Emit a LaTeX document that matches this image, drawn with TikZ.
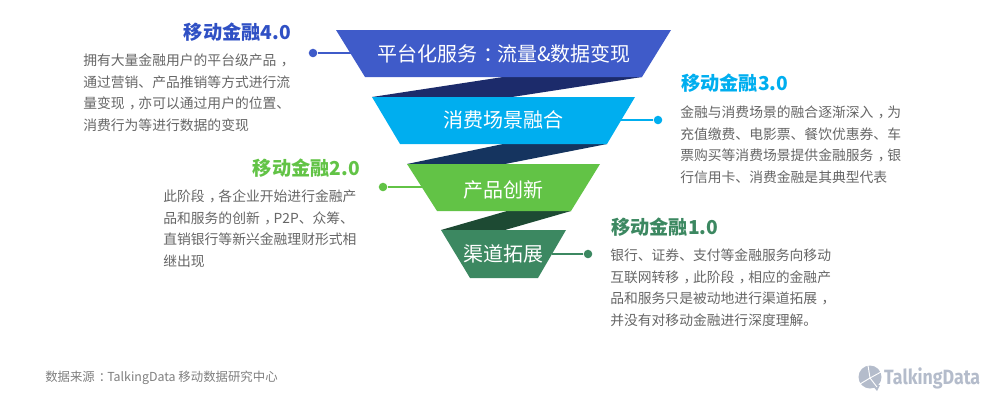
\documentclass[tikz,border=0pt]{standalone}
\usepackage{fontspec}
\setmainfont{Noto Sans CJK SC}
\newfontfamily\logofont{Fira Sans}
\newcommand{\cmm}{\hspace{0.32em}，\hspace{-0.32em}}
\newcommand{\cln}{\hspace{0.32em}：\hspace{-0.32em}}
\definecolor{cA}{HTML}{3F5BC9}
\definecolor{tA}{HTML}{2F50C4}
\definecolor{cB}{HTML}{00AEEF}
\definecolor{cC}{HTML}{62C346}
\definecolor{cD}{HTML}{3C8861}
\definecolor{dA}{HTML}{1C2B6B}
\definecolor{dB}{HTML}{15345F}
\definecolor{dC}{HTML}{1D4A33}
\definecolor{txt}{HTML}{666666}
\definecolor{srcgray}{HTML}{7F7F7F}
\definecolor{logoc}{HTML}{B4BCCB}
\tikzset{
  x=0.75pt,y=-0.75pt,
  funneltext/.style={text=white,font=\fontsize{15pt}{17pt}\selectfont,inner sep=0pt},
  bodytext/.style={text=txt,font=\fontsize{10.35pt}{12pt}\selectfont,anchor=west,inner sep=0pt},
  titletext/.style={font=\fontsize{14.4pt}{17pt}\selectfont\bfseries,inner sep=0pt},
  leader/.style={line width=0.9pt},
  dotmark/.style={circle,inner sep=0pt,minimum size=6.4pt},
}
\begin{document}
\begin{tikzpicture}
\useasboundingbox (0,0) rectangle (1000,404);
% folds
\fill[dA] (503,77) -- (642,77) -- (512,97) -- (372,97) -- cycle;
\fill[dB] (503,144) -- (607,144) -- (505,164) -- (407,164) -- cycle;
\fill[dC] (507,211) -- (571,211) -- (505,230) -- (441,230) -- cycle;
% leaders and dots
\node[dotmark,fill=cA] (d4) at (313,53) {};
\coordinate (e4) at (352,53);
\draw[leader,cA] (d4) -- (e4);
\node[dotmark,fill=cB] (d3) at (658,120) {};
\coordinate (e3) at (620,120);
\draw[leader,cB] (d3) -- (e3);
\node[dotmark,fill=cC] (d2) at (383,187) {};
\coordinate (e2) at (424,187);
\draw[leader,cC] (d2) -- (e2);
\node[dotmark,fill=cD] (d1) at (588,254) {};
\coordinate (e1) at (552,254);
\draw[leader,cD] (d1) -- (e1);
% funnel
\fill[cA] (336,30) -- (671,30) -- (642,77) -- (365,77) -- cycle;
\fill[cB] (372,97) -- (635,97) -- (607,144) -- (400,144) -- cycle;
\fill[cC] (407,164) -- (600,164) -- (571,211) -- (437,211) -- cycle;
\fill[cD] (441,230) -- (566,230) -- (538,278) -- (470,278) -- cycle;
\node[funneltext] (f4) at (504,54) {平台化服务\cln 流量\&数据变现};
\node[funneltext] (f3) at (503,120) {消费场景融合};
\node[funneltext] (f2) at (503,190) {产品创新};
\node[funneltext] (f1) at (503,254) {渠道拓展};
% titles
\node[titletext,text=tA,anchor=east] (t4) at (291,32) {移动金融4.0};
\node[titletext,text=cB,anchor=west] (t3) at (681,83) {移动金融3.0};
\node[titletext,text=cC,anchor=east] (t2) at (360,168) {移动金融2.0};
\node[titletext,text=cD,anchor=west] (t1) at (611,227) {移动金融1.0};
% body 4
\node[bodytext] (a1) at (83,60) {拥有大量金融用户的平台级产品\cmm};
\node[bodytext] (a2) at (83,82) {通过营销、产品推销等方式进行流};
\node[bodytext] (a3) at (83,103) {量变现\cmm 亦可以通过用户的位置、};
\node[bodytext] (a4) at (83,125) {消费行为等进行数据的变现};
% body 3
\node[bodytext] (b1) at (680,112) {金融与消费场景的融合逐渐深入\cmm 为};
\node[bodytext] (b2) at (680,134) {充值缴费、电影票、餐饮优惠券、车};
\node[bodytext] (b3) at (680,155) {票购买等消费场景提供金融服务\cmm 银};
\node[bodytext] (b4) at (680,177) {行信用卡、消费金融是其典型代表};
% body 2
\node[bodytext] (c1) at (163,196) {此阶段\cmm 各企业开始进行金融产};
\node[bodytext] (c2) at (163,218) {品和服务的创新\cmm P2P、众筹、};
\node[bodytext] (c3) at (163,239) {直销银行等新兴金融理财形式相};
\node[bodytext] (c4) at (163,261) {继出现};
% body 1
\node[bodytext] (g1) at (610,255) {银行、证券、支付等金融服务向移动};
\node[bodytext] (g2) at (610,277) {互联网转移\cmm 此阶段\cmm 相应的金融产};
\node[bodytext] (g3) at (610,298) {品和服务只是被动地进行渠道拓展\cmm};
\node[bodytext] (g4) at (610,320) {并没有对移动金融进行深度理解。};
% source
\node[bodytext,text=srcgray,font=\fontsize{9.3pt}{11pt}\selectfont] (src) at (45,378) {数据来源\cln TalkingData 移动数据研究中心};
% logo
\fill[logoc] (870,377) circle[radius=11.5];
\fill[logoc] (872,385) -- (880,385) -- (877,391) -- cycle;
\draw[white,line width=0.7pt] (870,378) -- (868,365.5) (870,378) -- (881,372) (870,378) -- (860,384) (870,378) -- (877,387);
\node[inner sep=0pt,anchor=west,text=logoc,xscale=0.86,font=\logofont\bfseries\fontsize{15.5pt}{17pt}\selectfont] (logo) at (884,378) {TalkingData};
\end{tikzpicture}
\end{document}
